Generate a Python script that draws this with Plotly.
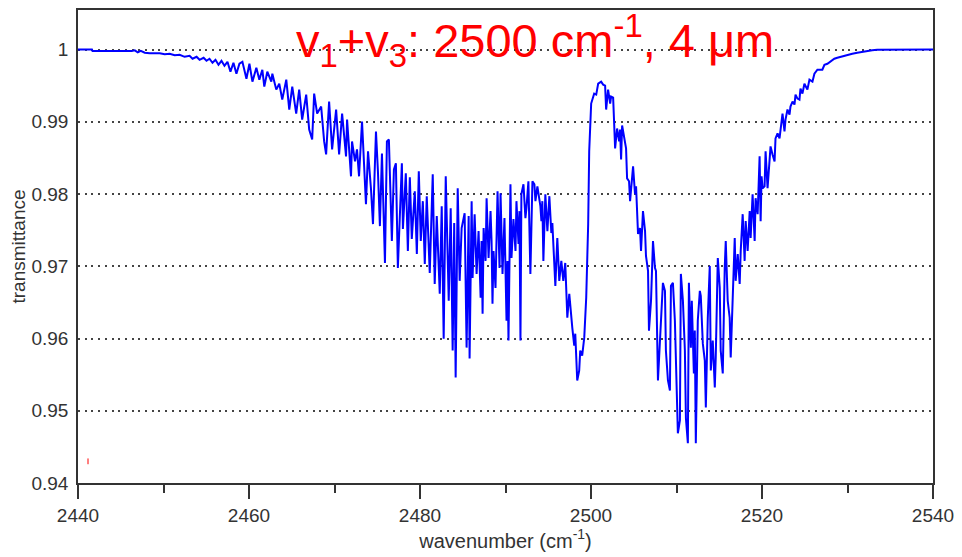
import plotly.graph_objects as go

# ---- data: wavenumber (cm^-1) and transmittance ----
wn_wing = [2440.00, 2441.63, 2441.70, 2446.29, 2446.64, 2446.99, 2447.34, 2447.81, 2448.39, 2449.56,
           2450.14, 2450.72, 2451.31, 2451.89, 2452.47, 2453.05, 2453.40, 2453.87, 2454.22, 2454.69,
           2455.03, 2455.38, 2455.73, 2456.08, 2456.43, 2456.78, 2457.13, 2457.48, 2457.83, 2458.18,
           2458.53, 2458.88]
tr_wing = [1.0000, 1.0000, 0.99978, 0.99978, 0.99989, 0.99961, 0.99982, 0.99955, 0.99948, 0.99948,
           0.99934, 0.99941, 0.99920, 0.99927, 0.99899, 0.99913, 0.99872, 0.99899, 0.99858, 0.99886,
           0.99844, 0.99872, 0.99817, 0.99858, 0.99789, 0.99844, 0.99775, 0.99830, 0.99693, 0.99817,
           0.99665, 0.99803]

wn_p1 = [2459.23, 2459.70, 2460.05, 2460.40, 2460.86, 2461.21, 2461.56, 2461.79, 2462.14, 2462.61,
         2462.73, 2463.19, 2463.54, 2463.89, 2464.36, 2464.71, 2465.06, 2465.52, 2465.87, 2466.22,
         2466.69, 2467.04, 2467.39, 2467.62, 2467.97, 2468.44, 2468.79, 2469.02, 2469.37, 2469.72,
         2470.19, 2470.54, 2470.89, 2471.35, 2471.47]
tr_p1 = [0.99830, 0.99596, 0.99803, 0.99555, 0.99748, 0.99583, 0.99720, 0.99486, 0.99693, 0.99555,
         0.99665, 0.99445, 0.99527, 0.99307, 0.99583, 0.99169, 0.99486, 0.99114, 0.99445, 0.99031,
         0.99376, 0.98893, 0.98755, 0.99389, 0.99114, 0.99210, 0.98728, 0.98548, 0.99279, 0.98617,
         0.99169, 0.98548, 0.99114, 0.98521, 0.99031]

wn_p2 = [2471.93, 2472.05, 2472.40, 2472.63, 2472.87, 2473.22, 2473.68, 2473.92, 2474.27, 2474.50,
         2474.85, 2475.08, 2475.31, 2475.55, 2475.90, 2476.13, 2476.36, 2476.71, 2476.95, 2477.18,
         2477.41, 2477.88, 2478.00, 2478.34, 2478.58, 2478.81, 2479.04, 2479.39, 2479.63, 2479.86,
         2480.09, 2480.33, 2480.56, 2480.79, 2481.14, 2481.49, 2481.72, 2481.96, 2482.31, 2482.54,
         2482.77, 2483.01, 2483.36, 2483.59, 2483.82, 2484.00, 2484.17, 2484.41, 2484.64, 2484.87,
         2485.22, 2485.45]
tr_p2 = [0.98245, 0.98728, 0.98452, 0.98617, 0.98245, 0.99004, 0.97859, 0.98590, 0.98066, 0.97584,
         0.98866, 0.98314, 0.97556, 0.98562, 0.97046, 0.98728, 0.98755, 0.97349, 0.98341, 0.98424,
         0.96977, 0.98424, 0.97515, 0.98286, 0.97211, 0.98231, 0.97377, 0.98039, 0.97170, 0.98314,
         0.97349, 0.97901, 0.97032, 0.97970, 0.96908, 0.98273, 0.96756, 0.97694, 0.96619, 0.97832,
         0.95998, 0.98245, 0.96522, 0.97804, 0.95833, 0.97600, 0.95461, 0.98080, 0.96798, 0.97529,
         0.97735, 0.95874]

wn_p3 = [2485.69, 2485.80, 2486.04, 2486.15, 2486.39, 2486.62, 2486.85, 2487.09, 2487.20, 2487.32,
         2487.44, 2487.67, 2487.79, 2488.02, 2488.25, 2488.37, 2488.48, 2488.60, 2488.83, 2489.07,
         2489.30, 2489.42, 2489.65, 2489.88, 2490.12, 2490.23, 2490.35, 2490.58, 2490.70, 2490.93,
         2491.17, 2491.28, 2491.52, 2491.63, 2491.75, 2491.86, 2492.10, 2492.33, 2492.45, 2492.68,
         2492.91, 2493.15, 2493.38, 2493.50, 2493.73, 2494.08, 2494.20, 2494.31, 2494.43, 2494.66,
         2494.90, 2495.13, 2495.36, 2495.48, 2495.83, 2496.06, 2496.29, 2496.53, 2496.76, 2496.99,
         2497.23, 2497.46, 2497.69, 2497.81, 2498.04, 2498.16, 2498.39, 2498.62, 2498.74, 2498.97,
         2499.21, 2499.44, 2499.67, 2499.79]
tr_p3 = [0.97694, 0.95723, 0.97901, 0.96839, 0.97721, 0.96894, 0.97487, 0.96564, 0.97349, 0.96343,
         0.97529, 0.97074, 0.97942, 0.97115, 0.97763, 0.97349, 0.96481, 0.97211, 0.96701, 0.98039,
         0.96977, 0.98011, 0.96894, 0.97666, 0.96246, 0.97074, 0.95971, 0.98135, 0.97115, 0.97653,
         0.97211, 0.97901, 0.97308, 0.97763, 0.95971, 0.97997, 0.98135, 0.97666, 0.97804, 0.98176,
         0.96894, 0.98176, 0.98135, 0.97901, 0.98107, 0.97832, 0.97625, 0.97901, 0.97074, 0.97997,
         0.97487, 0.97970, 0.97460, 0.97597, 0.96729, 0.97391, 0.96798, 0.97074, 0.96798, 0.97046,
         0.96288, 0.96619, 0.96219, 0.96150, 0.95902, 0.96067, 0.95419, 0.95557, 0.95833, 0.95764,
         0.96012, 0.96564, 0.97584, 0.98590]

wn_r1 = [2500.02, 2500.37, 2500.61, 2500.84, 2501.19, 2501.42,
         2501.65, 2501.77, 2502.00, 2502.24, 2502.35, 2502.59, 2502.70, 2502.82, 2503.05, 2503.29,
         2503.40, 2503.52, 2503.64, 2503.87, 2504.10, 2504.22, 2504.45, 2504.57, 2504.80, 2504.92,
         2505.15, 2505.27, 2505.50, 2505.73, 2505.85, 2506.08, 2506.32, 2506.43, 2506.67, 2506.78,
         2507.02, 2507.13, 2507.25, 2507.48, 2507.60, 2507.83, 2508.07, 2508.18, 2508.41, 2508.65,
         2508.76, 2509.00, 2509.23, 2509.35, 2509.58, 2509.81, 2509.93, 2510.16, 2510.40, 2510.51,
         2510.75, 2510.98, 2511.10, 2511.33, 2511.45, 2511.68, 2511.79, 2512.03, 2512.14, 2512.26]
tr_r1 = [0.99252, 0.99389, 0.99376, 0.99527, 0.99555, 0.99514,
         0.99500, 0.99169, 0.99445, 0.99252, 0.99348, 0.99334, 0.99004, 0.98631, 0.98907, 0.98728,
         0.98893, 0.98479, 0.98948, 0.98797, 0.98631, 0.98217, 0.98176, 0.97901, 0.98286, 0.98383,
         0.97997, 0.98107, 0.97446, 0.97529, 0.97211, 0.97763, 0.97487, 0.97142, 0.96936, 0.96109,
         0.96522, 0.96936, 0.97349, 0.96977, 0.96936, 0.95419, 0.95971, 0.96109, 0.96770, 0.96660,
         0.95833, 0.95419, 0.95281, 0.96729, 0.96770, 0.96246, 0.95695, 0.94689, 0.94868, 0.96894,
         0.96522, 0.95833, 0.94896, 0.94551, 0.96770, 0.95874, 0.96522, 0.95516, 0.96109, 0.94551]

wn_r2 = [2512.49, 2512.73, 2512.84, 2513.08, 2513.31, 2513.43, 2513.66, 2513.89, 2514.01, 2514.24,
         2514.48, 2514.59, 2514.83, 2515.06, 2515.17, 2515.41, 2515.64, 2515.76, 2515.99, 2516.22,
         2516.34, 2516.57, 2516.81, 2516.92, 2517.16, 2517.39, 2517.51, 2517.74, 2517.97, 2518.09,
         2518.32, 2518.56, 2518.67, 2518.90, 2519.14, 2519.25, 2519.49, 2519.72, 2519.84, 2519.95,
         2520.07, 2520.30, 2520.42, 2520.65, 2520.89, 2521.00, 2521.23, 2521.47, 2521.58, 2521.82,
         2522.05, 2522.17, 2522.40, 2522.63, 2522.75, 2522.98, 2523.22, 2523.33, 2523.57, 2523.80,
         2523.92, 2524.15, 2524.38, 2524.50, 2524.73, 2524.96, 2525.31, 2525.55, 2525.90, 2526.13,
         2526.48, 2527.06, 2527.30, 2527.65, 2528.00, 2528.46, 2528.81, 2529.16, 2529.63, 2529.98,
         2530.56, 2531.14, 2531.72, 2532.31, 2532.89, 2533.47, 2540.00]
tr_r2 = [0.96246, 0.96660, 0.96591, 0.95929, 0.95695, 0.95047, 0.96288, 0.97005, 0.95557, 0.95971,
         0.95323, 0.95736, 0.97115, 0.96701, 0.95833, 0.95516, 0.96977, 0.97349, 0.96522, 0.96288,
         0.95736, 0.96619, 0.97391, 0.96798, 0.97170, 0.96756, 0.97211, 0.97721, 0.97074, 0.97625,
         0.97211, 0.97763, 0.97391, 0.97997, 0.97349, 0.97942, 0.97721, 0.98521, 0.97625, 0.98245,
         0.98080, 0.98107, 0.98590, 0.98080, 0.98452, 0.98659, 0.98548, 0.98452, 0.98769, 0.98838,
         0.98769, 0.98866, 0.99114, 0.98866, 0.99031, 0.99169, 0.99100, 0.99210, 0.99279, 0.99238,
         0.99376, 0.99321, 0.99307, 0.99458, 0.99389, 0.99527, 0.99445, 0.99583, 0.99555, 0.99665,
         0.99720, 0.99720, 0.99789, 0.99803, 0.99830, 0.99872, 0.99886, 0.99899, 0.99913, 0.99927,
         0.99941, 0.99955, 0.99968, 0.99975, 0.99989, 0.99996, 1.0000]

# small red stray mark near the lower-left corner of the reference
mark_wn = [2441.17, 2441.17]
mark_tr = [0.94340, 0.94260]

y_ticks = [0.94, 0.95, 0.96, 0.97, 0.98, 0.99, 1.0]
y_tick_labels = ["0.94", "0.95", "0.96", "0.97", "0.98", "0.99", "1"]
x_ticks = [2440, 2460, 2480, 2500, 2520, 2540]
x_tick_labels = ["2440", "2460", "2480", "2500", "2520", "2540"]

title_text = "v<sub>1</sub>+v<sub>3</sub>: 2500 cm<sup>-1</sup>, 4 μm"

segments = [(wn_wing, tr_wing), (wn_p1, tr_p1), (wn_p2, tr_p2), (wn_p3, tr_p3),
            (wn_r1, tr_r1), (wn_r2, tr_r2)]
wavenumber, transmittance = [], []
for a, b in segments:
    assert len(a) == len(b)
    wavenumber += a
    transmittance += b

FONT = "Liberation Sans, Arial, Helvetica, sans-serif"

fig = go.Figure()
fig.add_trace(go.Scatter(x=wavenumber, y=transmittance, mode="lines",
                         line=dict(color="#0000ff", width=2), hoverinfo="skip",
                         showlegend=False))
fig.add_trace(go.Scatter(x=mark_wn, y=mark_tr, mode="lines",
                         line=dict(color="#ff0000", width=1), hoverinfo="skip",
                         showlegend=False))

fig.update_layout(
    width=962, height=557,
    margin=dict(l=78, r=26, t=8, b=74),
    paper_bgcolor="white", plot_bgcolor="white",
    font=dict(family=FONT, color="#333333", size=19),
    annotations=[dict(text=title_text, xref="paper", yref="paper",
                      x=0.253, y=0.935, xanchor="left", yanchor="middle",
                      showarrow=False,
                      font=dict(family=FONT, size=47, color="#ff0000"))],
)
fig.update_xaxes(range=[2440, 2540], tickvals=x_ticks, ticktext=x_tick_labels,
                 showgrid=False, zeroline=False,
                 showline=True, linecolor="#333333", linewidth=1.5, mirror=True,
                 ticks="outside", ticklen=14, tickwidth=1.5, tickcolor="#333333",
                 minor=dict(dtick=10, tick0=2440, ticks="outside", ticklen=8,
                            tickwidth=1.5, tickcolor="#333333", showgrid=False),
                 tickfont=dict(size=19, color="#333333"),
                 title=dict(text="wavenumber (cm<sup>-1</sup>)", standoff=9,
                            font=dict(size=20, color="#333333")))
fig.update_yaxes(range=[0.94, 1.00547], tickvals=y_ticks, ticktext=y_tick_labels,
                 showgrid=True, gridcolor="#444444", gridwidth=1.5, griddash="2px,4.7px",
                 zeroline=False,
                 showline=True, linecolor="#333333", linewidth=1.5, mirror=True,
                 ticks="", ticklabelstandoff=4,
                 tickfont=dict(size=19, color="#333333"),
                 title=dict(text="transmittance", standoff=1,
                            font=dict(size=19, color="#333333")))

fig.write_html("out.html")
